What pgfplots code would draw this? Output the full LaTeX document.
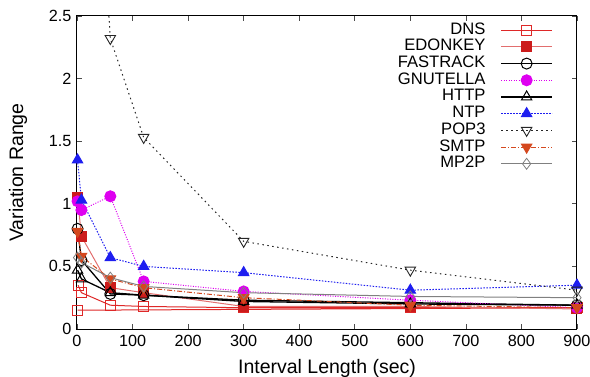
\documentclass[border=0pt]{standalone}
\usepackage{fontspec}
\setmainfont{Liberation Sans}
\usepackage{pgfplots}
\pgfplotsset{compat=1.18}
\definecolor{cdns}{RGB}{222,40,40}
\definecolor{cedk}{RGB}{204,28,28}
\definecolor{cedkl}{RGB}{226,110,110}
\definecolor{cgnu}{RGB}{222,0,240}
\definecolor{cntp}{RGB}{30,30,240}
\definecolor{csmtp}{RGB}{212,72,30}
\definecolor{cmp}{RGB}{128,128,128}
\begin{document}
\fontsize{16.5bp}{18bp}\selectfont
\begin{tikzpicture}
\begin{axis}[
  at={(0,0)}, anchor=south west,
  scale only axis, width=500bp, height=313bp,
  xmin=0, xmax=900, ymin=0, ymax=2.5,
  xtick={0,100,200,300,400,500,600,700,800,900},
  ytick={0,0.5,1,1.5,2,2.5},
  yticklabels={0,0.5,1,1.5,2,2.5},
  tick align=inside, tick pos=both,
  major tick length=5bp,
  axis line style={line width=1bp},
  tick style={line width=0.6bp, black!70},
  /pgf/number format/assume math mode=true,
  ticklabel style={font=\fontsize{16.2bp}{18bp}\selectfont},
  xlabel={Interval Length (sec)}, ylabel={Variation Range},
  xlabel style={at={(axis description cs:0.5,-0.1406)}, anchor=base, font=\fontsize{19.5bp}{21bp}\selectfont},
  ylabel style={at={(axis description cs:-0.118,0.5)}, anchor=center, font=\fontsize{19.5bp}{21bp}\selectfont},
  legend style={draw=none, fill=none, at={(axis description cs:0.952,0.982)}, anchor=north east,
    nodes={inner sep=0pt, text height=12.3bp, text depth=4.4bp},
    cells={anchor=east},
    legend plot pos=right, font=\fontsize{16.6bp}{16.7bp}\selectfont,
    row sep=0pt, column sep=15bp, inner sep=0pt},
  legend image code/.code={\draw[mark repeat=2,mark phase=2,#1] plot coordinates {(0bp,0bp) (25.5bp,0bp) (51bp,0bp)};},
  every axis plot/.append style={line width=1bp},
]
\addplot[cdns, mark=square, mark size=5bp, mark options={solid, line width=0.8bp}] coordinates {
(2,0.35) (8,0.29) (60,0.19) (120,0.18) (300,0.17) (600,0.17) (900,0.17) (1,0.15)};
\addlegendentry{DNS}
\addplot[cedkl, mark=square*, mark size=5bp, mark options={solid, fill=cedk, draw=cedk}] coordinates {
(1,1.05) (8,0.74) (60,0.33) (120,0.29) (300,0.18) (600,0.18) (900,0.16)};
\addlegendentry{EDONKEY}
\addplot[black, line width=1.3bp, mark=o, mark size=5.5bp, mark options={solid, line width=1bp}] coordinates {
(1,0.80) (8,0.55) (60,0.28) (120,0.27) (300,0.23) (600,0.21) (900,0.19)};
\addlegendentry{FASTRACK}
\addplot[cgnu, dash pattern=on 1bp off 1.5bp, mark=*, mark size=5.5bp, mark options={solid, fill=cgnu}] coordinates {
(1,1.02) (8,0.95) (60,1.06) (120,0.38) (300,0.30) (600,0.23) (900,0.17)};
\addlegendentry{GNUTELLA}
\addplot[black, line width=1.3bp, mark=triangle, mark size=6bp, mark options={solid, line width=1bp}] coordinates {
(1,0.47) (8,0.40) (60,0.29) (120,0.27) (300,0.22) (600,0.20) (900,0.19)};
\addlegendentry{HTTP}
\addplot[cntp, dash pattern=on 1.5bp off 1.5bp, mark=triangle*, mark size=6bp, mark options={solid, fill=cntp}] coordinates {
(1,1.35) (8,1.03) (60,0.57) (120,0.50) (300,0.45) (600,0.31) (900,0.35)};
\addlegendentry{NTP}
\addplot[black!85, dash pattern=on 1.5bp off 3.5bp, mark=triangle, mark size=6bp, mark options={solid, rotate=180, line width=0.9bp}] coordinates {
(1,10) (8,6) (60,2.32) (120,1.53) (300,0.70) (600,0.47) (900,0.31)};
\addlegendentry{POP3}
\addplot[csmtp, dash pattern=on 5bp off 2bp on 1bp off 2bp, mark=triangle*, mark size=6bp, mark options={solid, rotate=180, fill=csmtp}] coordinates {
(1,0.78) (8,0.58) (60,0.40) (120,0.33) (300,0.25) (600,0.19) (900,0.17)};
\addlegendentry{SMTP}
\addplot[cmp, mark=diamond, mark size=5.5bp, mark options={solid, line width=0.8bp}] coordinates {
(1,0.57) (8,0.53) (60,0.41) (120,0.34) (300,0.29) (600,0.26) (900,0.25)};
\addlegendentry{MP2P}
\end{axis}
\pgfresetboundingbox
\useasboundingbox (-77bp,-48bp) rectangle (513bp,329bp);
\end{tikzpicture}
\end{document}
